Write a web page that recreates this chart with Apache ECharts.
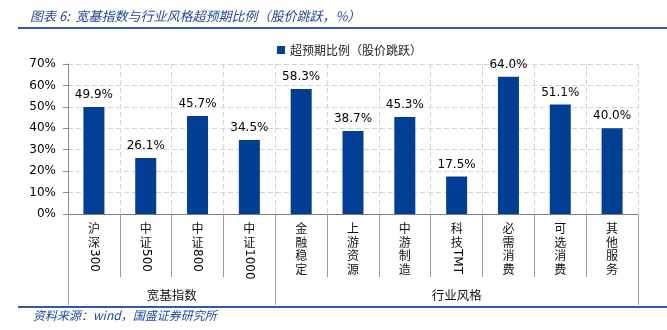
<!DOCTYPE html>
<html><head><meta charset="utf-8">
<script src="https://cdn.jsdelivr.net/npm/echarts@6/dist/echarts.min.js"></script>
<style>html,body{margin:0;padding:0;background:#fff}#c{width:667px;height:330px}</style>
</head><body><div id="c"></div>
<script>
var categories = ['沪深300','中证500','中证800','中证1000','金融稳定','上游资源','中游制造','科技TMT','必需消费','可选消费','其他服务'];
var values = [49.9, 26.1, 45.7, 34.5, 58.3, 38.7, 45.3, 17.5, 64.0, 51.1, 40.0];
var groups = ['宽基指数','行业风格'];
var groupSizes = [4, 7];
var seriesName = '超预期比例（股价跳跃）';
var yTicks = [0, 10, 20, 30, 40, 50, 60, 70];
var titleText = '图表 6:  宽基指数与行业风格超预期比例（股价跳跃，%）';
var sourceText = '资料来源：wind，国盛证券研究所';

var cjk = /[\u3400-\u9fff]/;
function cjkPart(s){ return s.split('').filter(function(c){return cjk.test(c);}).join('\n'); }
function latinPart(s){ return s.split('').filter(function(c){return !cjk.test(c);}).join(''); }

var groupBounds = [0], groupCenters = [], acc = 0;
groupSizes.forEach(function(n){ groupCenters.push(acc + n/2); acc += n; groupBounds.push(acc); });

var CJK = '"Noto Sans CJK SC", sans-serif';
var NUM = '"DejaVu Sans", Verdana, sans-serif';
var blue = '#1e4796';

var chart = echarts.init(document.getElementById('c'), null, {renderer:'canvas'});
chart.setOption({
  animation: false,
  title: [
    {text: titleText, left: 25, top: 5, textStyle:{fontFamily: CJK, fontSize: 13, fontStyle:'italic', fontWeight:'normal', color: blue}},
    {text: sourceText, left: 28, top: 304, textStyle:{fontFamily: CJK, fontSize: 12, fontStyle:'italic', fontWeight:'normal', color: blue}}
  ],
  graphic: [
    {type:'rect', shape:{x:18, y:27, width:649, height:2}, style:{fill:'#2c5aa8'}},
    {type:'rect', shape:{x:18, y:306, width:649, height:2}, style:{fill:'#2c5aa8'}}
  ],
  legend: {
    data: [seriesName], left: 272, top: 39, itemWidth: 8, itemHeight: 8, itemGap: 4,
    icon: 'rect',
    textStyle: {fontFamily: CJK, fontSize: 12, color: '#222'}
  },
  grid: {left: 68, right: 29, top: 64, bottom: 116, containLabel: false},
  yAxis: {
    type: 'value', min: 0, max: 70, interval: 10,
    axisLine: {show: true, lineStyle: {color: '#8c8c8c'}},
    axisTick: {show: true, length: 5, lineStyle: {color: '#8c8c8c'}},
    axisLabel: {formatter: '{value}%', fontFamily: NUM, fontSize: 12, color: '#000', margin: 12},
    splitLine: {show: true, lineStyle: {color: '#d4d4d4', type: [5, 3]}}
  },
  xAxis: [
    {
      type: 'category', data: categories, boundaryGap: true,
      axisLine: {show: true, lineStyle: {color: '#7a7a7a'}},
      axisTick: {show: true, length: 63, lineStyle: {color: '#9a9a9a'}},
      axisLabel: {interval: 0, formatter: function(v){ return cjkPart(v); }, fontFamily: CJK, fontSize: 12, lineHeight: 13.5, color: '#111', margin: 8, verticalAlign: 'top'},
      splitLine: {show: true, lineStyle: {color: '#d4d4d4', type: [5, 3]}}
    },
    {
      type: 'category', data: categories, boundaryGap: true, position: 'bottom',
      axisLine: {show: false}, axisTick: {show: false}, splitLine: {show: false},
      axisLabel: {interval: 0, rotate: -90, formatter: function(v){ return latinPart(v); }, fontFamily: NUM, fontSize: 12, color: '#000', margin: 35}
    },
    {
      type: 'value', min: 0, max: categories.length, position: 'bottom',
      axisLine: {show: false}, splitLine: {show: false},
      axisTick: {show: true, length: 91, customValues: groupBounds, lineStyle: {color: '#9a9a9a'}},
      axisLabel: {show: true, customValues: groupCenters, margin: 75, fontFamily: CJK, fontSize: 12.5, color: '#111',
        formatter: function(v){ var i = groupCenters.indexOf(v); return i >= 0 ? groups[i] : ''; }}
    }
  ],
  series: [{
    name: seriesName, type: 'bar', data: values, barWidth: 21, xAxisIndex: 0,
    itemStyle: {color: '#023f94'},
    label: {show: true, position: 'top', distance: 6, formatter: function(p){ return p.value.toFixed(1) + '%'; }, fontFamily: NUM, fontSize: 12, color: '#000'}
  }]
});
</script></body></html>
